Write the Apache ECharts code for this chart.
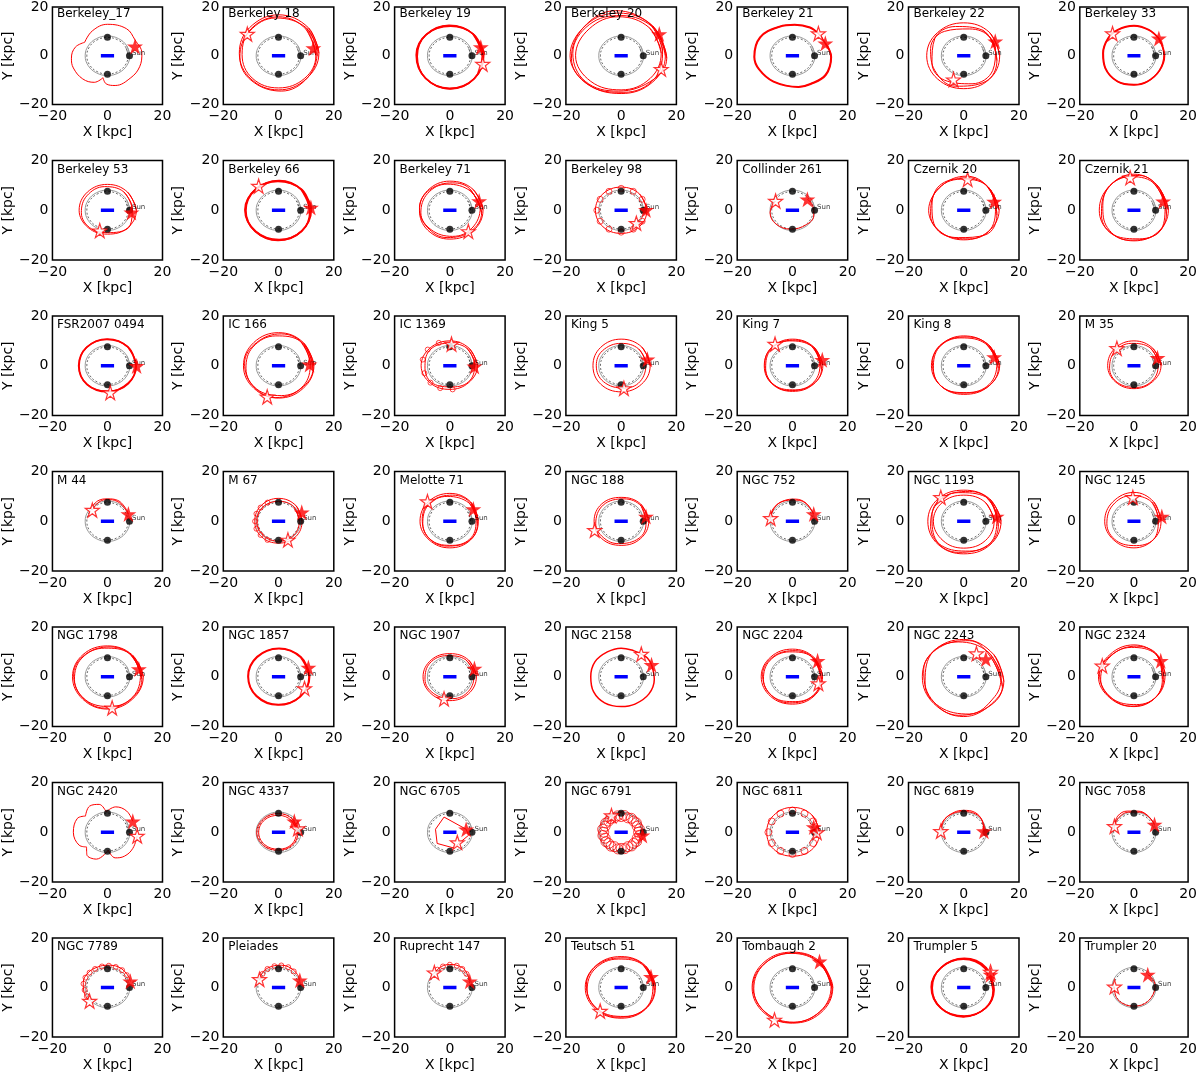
<!DOCTYPE html>
<html>
<head>
<meta charset="utf-8">
<script src="https://cdn.jsdelivr.net/npm/echarts@6/dist/echarts.min.js"></script>
<style>
  html, body { margin: 0; padding: 0; background: #fff; }
  #chart { width: 1200px; height: 1073px; }
</style>
</head>
<body>
<div id="chart"></div>
<script>
// cluster names, 7 x 7 panels, read left to right, top to bottom
const names = [
  'Berkeley_17', 'Berkeley 18', 'Berkeley 19', 'Berkeley 20', 'Berkeley 21', 'Berkeley 22', 'Berkeley 33',
  'Berkeley 53', 'Berkeley 66', 'Berkeley 71', 'Berkeley 98', 'Collinder 261', 'Czernik 20', 'Czernik 21',
  'FSR2007 0494', 'IC 166', 'IC 1369', 'King 5', 'King 7', 'King 8', 'M 35',
  'M 44', 'M 67', 'Melotte 71', 'NGC 188', 'NGC 752', 'NGC 1193', 'NGC 1245',
  'NGC 1798', 'NGC 1857', 'NGC 1907', 'NGC 2158', 'NGC 2204', 'NGC 2243', 'NGC 2324',
  'NGC 2420', 'NGC 4337', 'NGC 6705', 'NGC 6791', 'NGC 6811', 'NGC 6819', 'NGC 7058',
  'NGC 7789', 'Pleiades', 'Ruprecht 147', 'Teutsch 51', 'Tombaugh 2', 'Trumpler 5', 'Trumpler 20'
];

// present-day position (filled star), kpc
const nowStar = [
  [10,3.8],[12.6,3.1],[11.2,3.5],[13.8,8.9],[11.9,5.1],[11.4,5.9],[9.2,7.1],
  [8.7,-0.9],[11.7,1.1],[10.6,3.7],[9,0.1],[5.4,4.4],[11,3.5],[10.8,3.6],
  [10.6,-0.1],[11.2,0.5],[8.9,-0.3],[9.5,2.6],[10.8,2.4],[11,3.5],[8.7,3.2],
  [7.6,2.9],[8.4,3.6],[8.5,4.9],[9,1.9],[7.7,2.9],[11.9,1.9],[10.3,1.9],
  [11.4,3.1],[10.8,3.7],[8.9,3.3],[11,4.8],[9.1,6.4],[8,7.1],[9.9,6.4],
  [9.2,4.4],[5.7,4.4],[5.9,1.2],[7.7,-1.3],[7.7,2.1],[7.3,0.4],[7.6,3.1],
  [8.3,2.5],[7.7,2.9],[7.2,2.5],[10.8,4.3],[9.8,10.5],[9.7,5.2],[5.1,5.2]
];

// birth position (open star), kpc; null where hidden
const birthStar = [
  null,[-11.3,8.9],[11.9,-3.4],[14.5,-5.5],[9.4,9.1],[-3.7,-9.8],[-7.9,9.1],
  [-2.8,-8.2],[-7.2,9.7],[6.7,-8.5],[5.5,-5.2],[-6.1,3.7],[1.4,12.4],[-1.4,13.1],
  [1,-10.8],[-4.1,-12.5],[0.6,8.7],[1,-9.1],[-6.3,8.7],null,[-6.3,7],
  [-5.5,4.5],[3.4,-7.5],[-8.1,7.9],[-9.6,-3.6],[-7.9,1.2],[-8.3,9.6],[-0.4,9.6],
  [1.7,-12.5],[9.4,-4.7],[-2.1,-8.9],[7.3,9.1],[9.4,-2.7],[4.6,9.3],[-11.7,4.4],
  [10.8,-1.5],[7,1.5],[2.7,-4.1],[-3.5,6.7],[8.8,-0.1],[-8.3,0.4],[-7.2,2.4],
  [-6.5,-5.5],[-6.9,3.3],[-5.6,6],[-7.6,-9.5],[-6.5,-13.1],[9.7,6.3],[-7.2,0.3]
];

// closed orbit loops, points E, NE, N, NW, W, SW, S, SE (kpc)
const loops = [
  [],
  [[[14.6,1],[10.8,11.5],[0,16.8],[-10.5,11.5],[-14.2,1],[-10,-9.5],[0,-14],[10,-9.5]],
   [[13.5,0],[10,10.8],[0,16],[-10,11],[-13.2,0.5],[-9.5,-9.2],[0,-13.2],[9.5,-9.2]],
   [[14,2],[10,11.5],[-1,15.5],[-10.5,10],[-14,-0.5],[-10,-10],[1,-14.5],[10.5,-9]]],
  [[[12,0],[8.5,8.8],[0,12.3],[-8.6,8.6],[-12,0],[-8.8,-9.2],[0,-13.5],[8.8,-9.4]],
   [[12.3,0.5],[8.7,8.7],[0.3,12.1],[-8.5,8.8],[-12.2,0.3],[-9,-9],[-0.2,-13.3],[9,-9.2]],
   [[11.7,-0.3],[8.3,9],[-0.3,12.5],[-8.8,8.4],[-11.8,-0.3],[-8.6,-9.4],[0.2,-13.6],[8.6,-9.6]]],
  [[[16,0],[11.5,12.2],[-1,17.5],[-12.5,12.8],[-18.5,0],[-12.5,-11.3],[0,-15.5],[11.4,-10.8]],
   [[15,2],[10.5,13],[-2,18.5],[-13.5,11.8],[-18,-1],[-11.8,-12],[1,-15],[12,-9.5]],
   [[16.5,-1],[12.5,10.7],[0,16.5],[-11.5,12.8],[-17.5,1],[-13,-10.5],[-1,-14.5],[12,-9.5]],
   [[14.5,1],[10.2,11.5],[-1,16],[-11.6,11],[-16.5,0],[-11,-10.5],[0,-14],[10.5,-9.3]]],
  [],
  [[[13,0],[9.3,9.6],[0,13.5],[-9.5,9.5],[-13.4,0],[-9.5,-9.5],[0,-13.5],[9.3,-9.6]],
   [[12,-2],[9.5,7.5],[2,11],[-7,10],[-12,3],[-10.5,-6],[-3,-12.5],[8,-10.5]],
   [[11.5,3],[6.8,10.5],[-3,12],[-10.5,7],[-11.5,-3],[-7,-10],[3,-11.5],[10.5,-6]]],
  [],
  [[[10.5,0],[7.3,7.3],[0,10.4],[-7.3,7.3],[-10.3,0],[-7,-7],[0,-9.6],[7.2,-7.2]],
   [[9,1],[5.8,7.5],[-1,9.5],[-7.5,5.8],[-9.5,-1],[-5.8,-7.5],[1,-9],[8.2,-6.2]]],
  [[[11.6,0],[8.3,8.3],[0,11.8],[-8.4,8.4],[-12,0],[-8.5,-8.5],[0,-12],[8.4,-8.4]],
   [[11.9,0.3],[8.5,8.3],[0.2,12],[-8.2,8.6],[-12.2,0.2],[-8.6,-8.3],[-0.2,-12.2],[8.2,-8.6]],
   [[11.3,-0.2],[8.1,8.4],[-0.2,11.6],[-8.5,8.1],[-11.8,-0.2],[-8.2,-8.5],[0.2,-11.8],[8.5,-8.2]]],
  [[[12,0],[8.4,8.4],[0,11.7],[-8,8],[-11,0],[-8,-8],[0,-11.6],[8.4,-8.3]],
   [[11,1],[7.5,7.7],[-1,10.5],[-8,6.8],[-10.5,-1],[-6.8,-7.8],[1,-10.5],[8,-7.2]],
   [[11.5,-1],[7.2,8.6],[1,11],[-7.3,8.2],[-11,1],[-8.2,-6.8],[-1,-11],[7.5,-8.5]]],
  [[[9.3,0],[6.6,6.6],[0,9.3],[-6.6,6.6],[-9.3,0],[-6.6,-6.6],[0,-9.3],[6.6,-6.6]]],
  [],
  [[[12.8,0],[9,9.2],[1,13.7],[-8,9.8],[-12.7,0],[-8.8,-8.3],[0,-11.9],[8.8,-8.6]],
   [[11.5,2],[8,10.2],[-1,12.5],[-9.8,8],[-12,-2],[-7,-9.8],[2,-11.5],[9.8,-7.5]],
   [[12,-2],[9.8,8],[2,12.8],[-8,10.6],[-11.5,2],[-9.8,-7.5],[-2,-11],[8,-9.8]]],
  [[[12.7,0],[8.5,10.2],[0,14.5],[-9,9.8],[-12.8,0],[-9.2,-8.5],[0,-12.3],[8.8,-8.8]],
   [[11.5,2],[7,11.2],[-2,13.5],[-10,8.2],[-12,-2],[-7,-10.2],[2,-11.5],[10.2,-7.5]],
   [[12,-1.5],[9.8,8],[2,14],[-8,10.8],[-11.5,2],[-9.8,-7],[-2,-12],[8,-9.8]]],
  [[[10.5,0],[7.5,7.5],[0,10.8],[-7.5,7.5],[-10.5,0],[-7.5,-7.5],[0,-10.5],[7.5,-7]],
   [[10.3,0.3],[7.3,7.7],[-0.2,10.6],[-7.7,7.3],[-10.3,-0.2],[-7.3,-7.6],[0.2,-10.3],[7.6,-7.2]]],
  [[[12.8,0],[9,9.3],[0,13.3],[-9,9.3],[-12.7,0],[-9,-9],[0,-13],[9,-9]],
   [[11.5,1],[8,9.7],[-1,12],[-9.3,7.5],[-11.8,-1],[-8,-9.3],[1,-12],[9,-8]],
   [[12.5,-1],[9.3,8.5],[1,12.8],[-8,9.3],[-12.3,1],[-9.3,-8],[-1,-12.8],[8,-9.3]]],
  [[[10,0],[7,7],[0,10],[-7.3,7],[-10.4,0],[-7,-7],[0,-9.5],[6.8,-6.8]],
   [[9,1],[6,7.2],[-1,9],[-7.5,6],[-9,-1],[-6,-7.2],[1,-8.5],[7.2,-6]]],
  [[[10.5,0],[7.5,7.5],[0,10.7],[-7.4,7.4],[-10.2,0],[-7.4,-7.4],[0,-10.5],[7.4,-7.4]],
   [[9,1],[6.3,6.8],[0,9],[-6.8,6],[-9,0],[-6.4,-6.4],[1,-9],[6.8,-6.4]]],
  [[[11,0],[7.8,7.5],[0,10.7],[-7.4,7.4],[-10.2,0],[-7.4,-7.3],[0,-10.3],[7.5,-7.5]],
   [[10,1],[7,7.8],[-1,10],[-7.8,6.5],[-9.7,-1],[-6.5,-7.8],[1,-9.7],[7.8,-6.5]],
   [[10.5,-1.5],[8.3,6.5],[1,10.3],[-7,7.8],[-10,1],[-7.8,-6.5],[-1,-10],[7,-7.8]]],
  [[[13,0],[8.9,8.5],[0,12],[-8.3,8.3],[-11.7,0],[-8.2,-8.2],[0,-11.5],[8.7,-8.5]],
   [[12,1],[8,8.8],[-1,11.2],[-8.8,7.5],[-11,-1],[-7.5,-8.8],[1,-10.8],[9.2,-7.5]],
   [[12.5,-1],[9.3,8],[1,11.6],[-8,8.8],[-11.3,1],[-8.8,-7.5],[-1,-11],[8.3,-8.8]]],
  [[[10,0],[7,7],[0,10],[-7,7],[-9.7,0],[-6.8,-6.5],[0,-9.2],[6.8,-6.5]],
   [[9,1],[6,7.2],[-1,9],[-7.2,5.5],[-9,-1],[-6,-6.8],[1,-8.7],[7.2,-5.5]]],
  [],
  [[[8.5,0],[6.3,6.3],[0,9.2],[-6.3,6.3],[-8.6,0],[-6.2,-6.2],[0,-8.8],[6.2,-6.2]],
   [[7.5,0],[5.5,5.8],[0,8],[-5.8,5.5],[-7.8,0],[-5.5,-5.6],[0,-8],[5.6,-5.5]]],
  [[[10.3,0],[7.5,7.8],[0,11.2],[-7.8,7.8],[-10.8,0],[-7.5,-7.5],[0,-10.7],[7.5,-7.5]],
   [[9.5,1],[7,7.3],[-1,10],[-7.8,6.5],[-9.8,-1],[-6.5,-7.8],[1,-9.7],[7.8,-6.5]],
   [[10,-1],[7.8,7],[1,10.5],[-7,7.8],[-10,1],[-7.8,-6.5],[-1,-10],[7,-7.8]]],
  [[[10,0],[7,7],[0,9.6],[-7,7],[-9.8,0],[-7,-7],[0,-9.7],[7,-7]],
   [[9,-1],[7.3,6],[1,9],[-6.5,6.5],[-9.2,-1],[-6.5,-6.5],[-1,-9],[6.5,-6.8]]],
  [],
  [[[13.5,0],[9.4,9],[0,12.5],[-9.3,9],[-13,0],[-9.3,-9.3],[0,-13.1],[9.5,-9.5]],
   [[12,2],[8,9.8],[-2,11.5],[-9.8,7],[-12,-2],[-8,-9.8],[2,-12],[10.2,-8]],
   [[12.5,-2],[9.8,8],[2,12],[-8,9.3],[-11.5,2],[-9.8,-8],[-2,-12.5],[8.5,-9.8]],
   [[11,0],[7.8,7.6],[0,10.5],[-7.8,7.5],[-11,0],[-7.5,-7.8],[0,-10.8],[7.8,-7.8]]],
  [[[10,0],[7.3,7.8],[0,11.6],[-7.8,7.8],[-10.8,0],[-7.5,-7.5],[0,-10.7],[7.3,-7.3]],
   [[9,1],[6.5,7.8],[-1,10.3],[-7.8,6.5],[-10,-1],[-6.5,-7.8],[1,-9.8],[7.8,-6.5]]],
  [[[13,0],[9,8.8],[0,12.4],[-8.9,8.9],[-12.7,0],[-9,-9],[0,-13],[9.1,-9]],
   [[12,1],[8,9.3],[-1,11.5],[-9.3,7.5],[-12,-1],[-8,-9.3],[1,-12],[9.3,-8]],
   [[12.5,-1],[9.3,8],[1,12],[-8,9],[-12.3,1],[-9.3,-8],[-1,-12.6],[8,-9.5]]],
  [[[11,0],[7.9,7.9],[0,11.3],[-7.8,7.8],[-10.9,0],[-7.8,-7.8],[0,-11.2],[7.9,-7.9]],
   [[11.3,0.3],[8.1,8],[0.2,11.5],[-7.8,8.1],[-11.1,0.2],[-8.1,-7.8],[-0.2,-11.4],[7.8,-8.1]]],
  [[[9.6,0],[6.8,6.7],[0,9.3],[-6.8,6.7],[-9.7,0],[-6.8,-6.8],[0,-9.6],[6.8,-6.8]],
   [[8.8,1],[5.8,6.8],[-1,8.5],[-7.2,5.5],[-9,-1],[-5.8,-6.8],[1,-8.8],[6.8,-5.8]]],
  [],
  [[[10.9,0],[7.8,7.8],[0,11.1],[-7.9,7.9],[-11.3,0],[-7.9,-7.9],[0,-11],[7.8,-7.8]],
   [[10,1],[6.8,8.2],[-1,10],[-8.2,6.5],[-10.5,-1],[-6.8,-8.2],[1,-10],[8.2,-6.8]],
   [[10.5,-1],[8.2,6.8],[1,10.5],[-6.8,8.2],[-10.8,1],[-8.2,-6.8],[-1,-10.5],[6.8,-8.2]]],
  [[[14.5,-2],[10.8,9],[0,15],[-10.8,10.5],[-15,0],[-10.8,-10.8],[0,-16],[10,-11]],
   [[13.5,0],[8.8,10],[-2,14],[-12,8.8],[-14,-3],[-8.8,-12],[2,-15],[11.2,-8]],
   [[14,-4],[10.3,7],[2,14.5],[-8.8,11.8],[-14.5,3],[-11.8,-8.8],[-2,-15.5],[8.8,-12.2]]],
  [[[11,0],[8.5,8.7],[0,12.8],[-8.9,8.9],[-13.1,0],[-8.9,-8.5],[0,-12],[8,-8.3]],
   [[11.5,1],[8,9.2],[-1,11.8],[-9.3,7.5],[-12.3,-1],[-8,-8.8],[1,-11.2],[8.8,-7.5]],
   [[10.5,-1],[9.2,8],[1,12.3],[-8,9],[-12.7,1],[-9.3,-7.5],[-1,-11.8],[7.5,-8.8]]],
  [],
  [[[7,0],[5,5.3],[0,7.5],[-5.4,5.4],[-7.9,0],[-5.4,-5.4],[0,-7.2],[5.2,-5]],
   [[6.5,0.5],[4.6,4.8],[0,6.8],[-5,5],[-7.2,0],[-5,-5],[0,-6.8],[4.8,-4.8]]],
  [],
  [],
  [[[9.8,0],[7,7],[0,10],[-6.8,6.8],[-9.3,0],[-6.8,-6.8],[0,-9.6],[7,-7]]],
  [],
  [],
  [],
  [],
  [],
  [[[12.4,0],[8.8,8.8],[0,12.5],[-9.1,8.9],[-13,0],[-9.1,-8.9],[0,-12.4],[8.8,-8.8]],
   [[11.5,1],[7.8,9.2],[-1,11.5],[-9.5,7.5],[-12.3,-1],[-8,-9.2],[1,-11.7],[9.2,-8]],
   [[12,-1],[9.2,8],[1,12],[-8.3,9.3],[-12.6,1],[-9.3,-8],[-1,-12],[8,-9.2]]],
  [[[14.6,0],[10.3,10.2],[0,14.3],[-10.3,10.2],[-14.6,0],[-10.3,-10.2],[0,-14.4],[10.3,-10.2]],
   [[14,0.5],[9.8,9.9],[-0.5,13.8],[-10.2,9.5],[-14,-0.5],[-9.8,-10],[0.5,-14],[10.2,-9.5]],
   [[14.3,-0.5],[10.3,9.6],[0.5,14],[-9.8,9.9],[-14.3,0.5],[-10.1,-9.7],[-0.5,-14.2],[9.8,-9.9]]],
  [[[10.8,-1],[7.9,7.9],[0,11.6],[-8.2,8],[-11.6,0],[-8.2,-8.3],[0,-11.7],[7.9,-8.3]],
   [[11,-0.7],[8.1,8.1],[0.2,11.8],[-8.1,8.2],[-11.8,0.2],[-8.5,-8.2],[-0.2,-11.9],[8.1,-8.2]],
   [[10.6,-1.2],[7.7,7.7],[-0.2,11.4],[-8.4,7.8],[-11.4,-0.2],[-8.1,-8.5],[0.2,-11.5],[7.7,-8.5]]],
  []
];

// open orbit arcs (kpc)
const arcs = [
  [[[-8.3,5.5],[-5.5,10.2],[0,12.9],[6.9,11.1],[10,6.5],[12.5,1],[11.7,-4.5],[8.5,-9],[2.8,-12.2],[-0.5,-11.5],[-1.6,-9]],
   [[-1.6,-9],[-4.8,-10.9],[-9,-9.5],[-12.4,-5],[-13.1,-1],[-11.7,3.5],[-8.3,5.5]]],
  [], [], [],
  [[[11.9,5.1],[13.9,-0.5],[11.9,-7.8],[6.5,-11.5],[2.2,-12.7],[-6.8,-10.5],[-12,-5.5],[-13.7,-0.5],[-11.6,7.5],[-4.7,11.8],[0.8,12.6],[6.3,11.5],[9.4,9.1],[11.9,5.1]],
   [[11.9,5.1],[14.1,-0.5],[12.1,-8],[6.6,-11.7],[2.2,-12.9],[-6.9,-10.7],[-12.2,-5.6],[-13.9,-0.5],[-11.8,7.6],[-4.7,12],[0.8,12.8],[6.4,11.7],[9.4,9.1]]],
  [],
  [[[9.2,7.1],[11.3,0],[9.5,-6],[5,-10.5],[0,-11.8],[-6,-10.5],[-10.5,-5],[-11.3,1],[-9.5,7],[-6,10.5],[0,12.2],[5.5,10.5],[9.2,7.1]],
   [[9.2,7.1],[11.1,0.2],[9.3,-6.2],[4.8,-10.7],[0,-12],[-6.1,-10.6],[-10.7,-5],[-11.5,1],[-9.6,7.2],[-6,10.7],[0,12.4],[5.5,10.7],[9.2,7.1]]],
  [], [], [], [],
  [[[-6.1,3.7],[-8.1,-1],[-6,-5.5],[-0.5,-7.6],[5,-5.8],[7.7,-2.3],[7.3,2],[5.4,4.4]]],
  [], [], [], [], [], [], [], [], [],
  [[[-5.5,4.5],[-3,7.8],[0,8.7],[3.5,8],[6,5.5],[7.6,2.9]],
   [[-6.2,5],[-3.5,8.2],[0,9],[3.7,8.4],[6.3,5.7],[7.6,2.9]]],
  [], [], [],
  [[[-7.9,1.2],[-6.5,5.5],[-3,8.3],[1,8.9],[5,7.2],[7.7,2.9]],
   [[-7.9,1.2],[-7,5],[-3.5,8],[0.5,8.5],[4.5,7.5],[7.7,2.9]]],
  [], [], [], [], [],
  [[[11,4.8],[12,-1],[10,-7],[5,-11],[0,-12],[-6,-10.5],[-10,-6],[-11,0],[-9.5,6],[-5,10],[0,11.5],[4.5,10.5],[7.3,9.1]],
   [[7.3,9.1],[9.5,7.5],[11,4.8]]],
  [], [], [],
  [[[-0.5,8.2],[3,10.2],[7,8.5],[9.2,4.4]],
   [[-0.5,8.2],[-3,11.2],[-6.5,10.5],[-8,6.5]],
   [[-8,6.5],[-11,5.5],[-12.4,0],[-10.3,-5.2],[-7.6,-5.9]],
   [[-7.6,-5.9],[-7.5,-9],[-4,-10.8],[0.3,-7.2]],
   [[0.3,-7.2],[2.8,-10.3],[6.2,-9.6],[9.2,-6.5],[10.8,-1.5]]],
  [],
  [[[5.9,1.2],[-2.1,6.1],[-5.2,1.2],[-4.6,-4.5],[1.3,-6.3],[6.8,-1.2],[5.9,1.2]]],
  [], [],
  [[[-8.3,0.4],[-7,5],[-3.5,8],[0,8.8],[4,8],[6.5,5],[7.3,0.4]],
   [[-8.3,0.4],[-7.5,4.5],[-4,7.5],[0,8.3],[4.2,7.4],[6.8,4.5],[7.3,0.4]]],
  [[[-7.2,2.4],[-5.5,6],[-2,8.1],[2,8.1],[5.5,6.2],[7.6,3.1]],
   [[-7.2,2.4],[-6,6.5],[-2.5,8.5],[1.5,8.5],[5,6.8],[7.6,3.1]]],
  [[[-6.5,-5.5],[-8.5,-2],[-8.8,2],[-7,6],[-3.5,8.3],[0,9],[4,8.3],[7,5.5],[8.3,2.5]]],
  [[[-6.9,3.3],[-5.5,6.5],[-2.5,8.5],[1,9],[4.5,7.8],[6.8,5.3],[7.7,2.9]]],
  [[[-5.6,6],[-3,8.5],[0,9.3],[3,8.8],[5.5,7],[7.2,2.5]]],
  [], [], [],
  [[[-7.2,0.3],[-6.5,-4],[-3.5,-6.8],[0,-7.5],[4,-6.5],[7,-3],[7.8,1],[6.5,4],[5.1,5.2]]]
];

// small epicycle loops drawn along some orbits (centres, kpc)
const curls = {
  10: [[8.8,0],[7.6,4.4],[4.4,7.6],[0,8.8],[-4.4,7.6],[-7.6,4.4],[-8.8,0],[-7.6,-4.4],[-4.4,-7.6],[0,-8.8],[4.4,-7.6],[7.6,-4.4]],
  16: [[-9.2,-3],[-7,-6.8],[-3.5,-9],[1,-9.5],[-9.8,2.5],[-8,6.5],[-4,9.2]],
  22: [[-8,3],[-8.5,0],[-8,-3],[-6.5,-5.5],[-6.5,5.5],[-4,7.5],[-4,-7.5]],
  38: [[6.3,0],[5.8,2.4],[4.5,4.5],[2.4,5.8],[0,6.3],[-2.4,5.8],[-4.5,4.5],[-5.8,2.4],[-6.3,0],[-5.8,-2.4],[-4.5,-4.5],[-2.4,-5.8],[0,-6.5],[2.4,-5.8],[4.5,-4.5],[5.8,-2.4],
       [6.6,1.3],[5.5,3.8],[3.7,5.6],[1.2,6.7],[-1.3,6.6],[-3.8,5.5],[-5.6,3.7],[-6.7,1.2],[-6.6,-1.3],[-5.5,-3.8],[-3.7,-5.6],[-1.2,-6.7],[1.3,-6.6],[3.8,-5.5],[5.6,-3.7],[6.7,-1.2]],
  39: [[8.7,0],[7.5,4.35],[4.35,7.5],[0,8.7],[-4.35,7.5],[-7.5,4.35],[-8.7,0],[-7.5,-4.35],[-4.35,-7.5],[0,-8.7],[4.35,-7.5],[7.5,-4.35]],
  42: [[-7.5,-3.5],[-8.3,-1],[-8.7,1.5],[-8,4],[-6.5,6],[-4.5,7.5],[-2,8.5],[0.5,8.8],[3,8.3],[5.3,7],[7,5]],
  43: [[-5.8,5.5],[-4,7.5],[-1.5,8.6],[1,8.9],[3.5,8.2],[5.5,6.5]],
  44: [[-4.5,7.2],[-2.5,8.5],[0,9.2],[2.5,8.8],[4.5,7.5],[6,5.5]]
};

// solar orbit and reference marks (kpc)
const sunRing = [[8.1,0],[7.01,4.05],[4.05,7.01],[0,8.1],[-4.05,7.01],[-7.01,4.05],[-8.1,0],[-7.01,-4.05],[-4.05,-7.01],[0,-8.1],[4.05,-7.01],[7.01,-4.05]];
const sunRingInner = [[7.5,0],[6.5,3.75],[3.75,6.5],[0,7.5],[-3.75,6.5],[-6.5,3.75],[-7.5,0],[-6.5,-3.75],[-3.75,-6.5],[0,-7.5],[3.75,-6.5],[6.5,-3.75]];
const sunPos = [[8,0]];
const sunDots = [[0,7.6],[0,-7.6]];
const barEnds = [[-2.4,0],[2.4,0]];
const axisMin = -20, axisMax = 20, axisStep = 20;

// ---- layout / style ----
const FONT = 'DejaVu Sans';
const RED = '#ff0000';
const gx0 = 52, gy0 = 5, colStep = 171.3, rowStep = 155.5, gw = 110.5, gh = 99.5;
const curlPx = {10: 6, 16: 5, 22: 5, 38: 10, 39: 7, 42: 5, 43: 5, 44: 5};
const thick = [2, 4, 6, 8, 14, 29, 31, 47];
const sharp = [37];
const SMOOTH = 0.4;
const starPath = 'path://M0,-10L2.245,-3.09L9.51,-3.09L3.633,1.18L5.88,8.09L0,3.82L-5.88,8.09L-3.633,1.18L-9.51,-3.09L-2.245,-3.09Z';
const minus = v => (v < 0 ? '\u2212' + Math.abs(v) : String(v));

const chart = echarts.init(document.getElementById('chart'));
const grids = [], xAxes = [], yAxes = [], titles = [], series = [];

function closed(pts) {
  return pts.concat([pts[0], pts[1]]);
}

names.forEach((name, i) => {
  const r = Math.floor(i / 7), c = i % 7;
  const left = gx0 + c * colStep, top = gy0 + r * rowStep;
  grids.push({left: left, top: top, width: gw, height: gh, show: true,
    borderColor: '#000', borderWidth: 1.5, backgroundColor: '#fff', containLabel: false});
  const axisCommon = {
    gridIndex: i, type: 'value', min: axisMin, max: axisMax, interval: axisStep,
    axisLine: {show: false}, axisTick: {show: false}, splitLine: {show: false},
    axisLabel: {fontSize: 14, color: '#000', fontFamily: FONT, margin: 5,
      showMinLabel: true, showMaxLabel: true, formatter: minus},
    nameLocation: 'middle',
    nameTextStyle: {fontSize: 14, color: '#000', fontFamily: FONT}
  };
  xAxes.push(Object.assign({}, axisCommon, {name: 'X [kpc]', nameGap: 21}));
  yAxes.push(Object.assign({}, axisCommon, {name: 'Y [kpc]', nameGap: 35, nameRotate: 90,
    axisLabel: Object.assign({}, axisCommon.axisLabel, {margin: 4})}));
  titles.push({text: name, left: left + 5, top: top + 3, padding: 0,
    textStyle: {fontSize: 12, fontWeight: 'normal', color: '#000', fontFamily: FONT}});

  const ax = {xAxisIndex: i, yAxisIndex: i, silent: true, animation: false};
  const lw = thick.includes(i) ? 1.5 : 1;
  // solar orbit ring
  series.push(Object.assign({type: 'line', data: closed(sunRing), smooth: SMOOTH, symbol: 'none', z: 1,
    lineStyle: {color: '#999', width: 1}}, ax));
  series.push(Object.assign({type: 'line', data: closed(sunRingInner), smooth: SMOOTH, symbol: 'none', z: 1,
    lineStyle: {color: '#444', width: 0.8, type: [2, 2]}}, ax));
  // orbits
  loops[i].forEach(lp => {
    series.push(Object.assign({type: 'line', data: closed(lp), smooth: SMOOTH, symbol: 'none', z: 2,
      lineStyle: {color: RED, width: lw}}, ax));
  });
  arcs[i].forEach(arc => {
    series.push(Object.assign({type: 'line', data: arc, smooth: sharp.includes(i) ? false : SMOOTH,
      symbol: 'none', z: 2, lineStyle: {color: RED, width: lw}}, ax));
  });
  if (curls[i]) {
    series.push(Object.assign({type: 'scatter', data: curls[i], symbol: 'circle', symbolSize: curlPx[i], z: 2,
      itemStyle: {color: 'transparent', borderColor: RED, borderWidth: 0.9}}, ax));
  }
  // bar
  series.push(Object.assign({type: 'line', data: barEnds, symbol: 'none', z: 3,
    lineStyle: {color: '#0000ff', width: 3.5, cap: 'butt'}}, ax));
  // sun and reference dots
  series.push(Object.assign({type: 'scatter', data: sunDots, symbol: 'circle', symbolSize: 7, z: 4,
    itemStyle: {color: '#000'}}, ax));
  series.push(Object.assign({type: 'scatter', data: sunPos, symbol: 'circle', symbolSize: 7, z: 4,
    itemStyle: {color: '#000'},
    label: {show: true, formatter: 'Sun', position: 'right', distance: 0, offset: [-1, -3],
      fontSize: 7, color: '#000', fontFamily: FONT}}, ax));
  // stars
  if (birthStar[i]) {
    series.push(Object.assign({type: 'scatter', data: [birthStar[i]], symbol: starPath, symbolSize: 14, z: 5,
      itemStyle: {color: '#fff', borderColor: RED, borderWidth: 1.2}}, ax));
  }
  series.push(Object.assign({type: 'scatter', data: [nowStar[i]], symbol: starPath, symbolSize: 16, z: 6,
    itemStyle: {color: RED}}, ax));
});

chart.setOption({
  animation: false,
  backgroundColor: '#fff',
  title: titles,
  grid: grids,
  xAxis: xAxes,
  yAxis: yAxes,
  series: series
});
</script>
</body>
</html>
